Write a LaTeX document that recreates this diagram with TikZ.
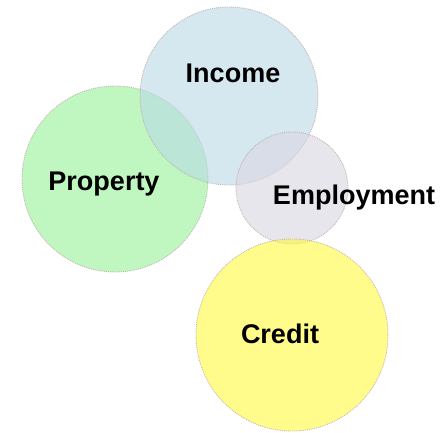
\documentclass[tikz,border=0pt]{standalone}
\usepackage{fontspec}
\setmainfont{Liberation Sans}
\begin{document}
\begin{tikzpicture}[x=1pt,y=-1pt,
  bubble/.style={circle,inner sep=0pt,draw=bordergray,densely dotted,line width=0.9pt,fill opacity=0.6,draw opacity=0.8},
  tag/.style={font=\bfseries\fontsize{27}{30}\selectfont,text=black,inner sep=0pt}]
  \definecolor{bordergray}{RGB}{190,165,165}
  \definecolor{propgreen}{RGB}{150,242,150}
  \definecolor{incblue}{RGB}{185,217,230}
  \definecolor{empgray}{RGB}{218,214,226}
  \definecolor{credyellow}{RGB}{255,250,62}
  \useasboundingbox (0,0) rectangle (443,432);
  \fill[white] (0,0) rectangle (443,432);
  % overlapping circles
  \node[bubble,fill=propgreen,minimum size=186pt] (prop) at (115,179) {};
  \node[bubble,fill=incblue,minimum size=178pt] (inc) at (229,96) {};
  \node[bubble,fill=empgray,minimum size=112pt] (emp) at (292,188) {};
  \node[bubble,fill=credyellow,minimum size=192pt] (cred) at (292,335) {};
  % labels
  \node[tag] (tprop) at (104,184) {Property};
  \node[tag] (tinc) at (233,73) {Income};
  \node[tag] (temp) at (354,198) {Employment};
  \node[tag] (tcred) at (280,334) {Credit};
\end{tikzpicture}
\end{document}
